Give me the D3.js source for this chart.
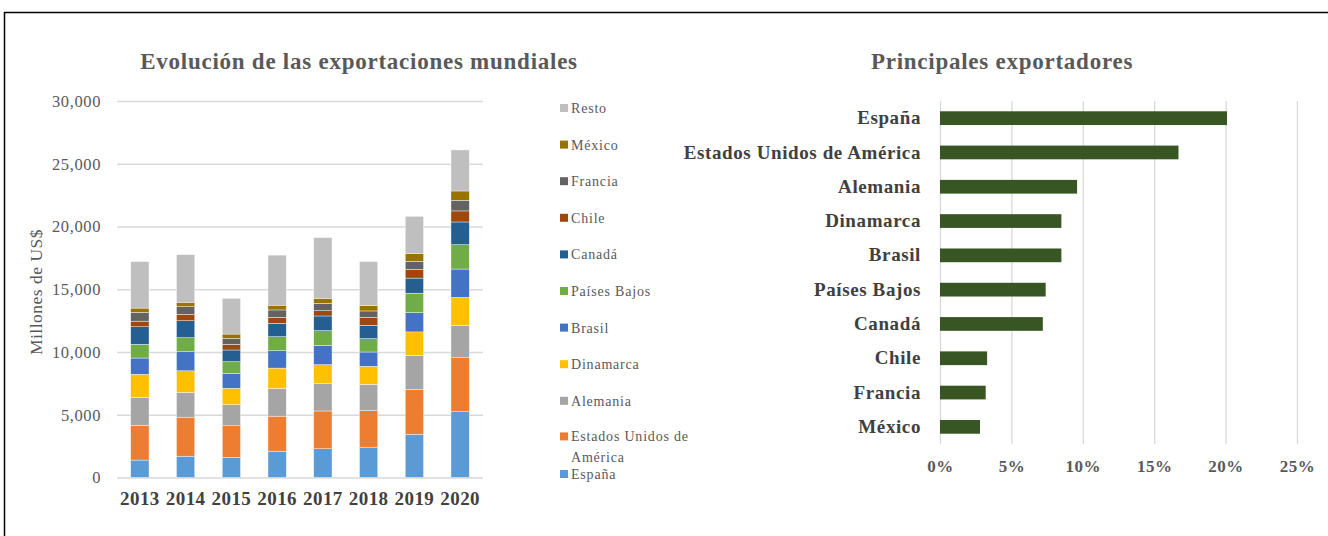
<!DOCTYPE html>
<meta charset="utf-8">
<script src="https://d3js.org/d3.v7.min.js"></script>
<style>
  body { margin: 0; background: #fff; }
  svg text { font-family: "Liberation Serif", serif; }
</style>
<div id="chart"></div>
<script>
// ---- data ----
var years = ["2013", "2014", "2015", "2016", "2017", "2018", "2019", "2020"];
// stacking order, bottom to top
var countries = ["España", "Estados Unidos de América", "Alemania", "Dinamarca", "Brasil",
  "Países Bajos", "Canadá", "Chile", "Francia", "México", "Resto"];
var espana    = [1390, 1700, 1600, 2100, 2290, 2420, 3440, 5240];
var eeuu      = [2760, 3110, 2520, 2790, 3010, 2930, 3590, 4300];
var alemania  = [2240, 1970, 1680, 2210, 2180, 2070, 2710, 2580];
var dinamarca = [1830, 1720, 1310, 1620, 1510, 1440, 1860, 2230];
var brasil    = [1300, 1520, 1200, 1380, 1550, 1140, 1540, 2260];
var paisesBajos = [1090, 1120, 920, 1120, 1160, 1060, 1550, 1940];
var canada    = [1400, 1350, 930, 1070, 1170, 1070, 1200, 1810];
var chile     = [450, 510, 450, 480, 420, 640, 690, 880];
var francia   = [700, 610, 480, 580, 590, 500, 640, 850];
var mexico    = [340, 350, 340, 380, 400, 420, 640, 740];
var resto     = [3700, 3800, 2850, 3990, 4830, 3510, 2950, 3270];
var seriesValues = [espana, eeuu, alemania, dinamarca, brasil, paisesBajos, canada, chile, francia, mexico, resto];
var seriesColors = ["#5B9BD5", "#ED7D31", "#A5A5A5", "#FFC000", "#4472C4", "#70AD47",
  "#255E91", "#9E480E", "#636363", "#997300", "#BFBFBF"];
var yTicks = [0, 5000, 10000, 15000, 20000, 25000, 30000];

// share of exports, top to bottom
var exporters = ["España", "Estados Unidos de América", "Alemania", "Dinamarca", "Brasil",
  "Países Bajos", "Canadá", "Chile", "Francia", "México"];
var shares = [0.201, 0.167, 0.096, 0.085, 0.085, 0.074, 0.072, 0.033, 0.032, 0.028];
var xTicks = [0, 0.05, 0.10, 0.15, 0.20, 0.25];

var W = 1328, H = 536;
var svg = d3.select("#chart").append("svg")
  .attr("width", W).attr("height", H);

// outer frame
svg.append("rect")
  .attr("x", 4.5).attr("y", 12.5)
  .attr("width", 1340).attr("height", 540)
  .attr("fill", "none").attr("stroke", "#000").attr("stroke-width", 1.5);

// ---------- left: stacked columns ----------
var x = d3.scaleBand().domain(years).range([117, 483]).paddingInner(0.6).paddingOuter(0.3);
var y = d3.scaleLinear().domain([0, 30000]).range([477.5, 101]);

svg.append("text")
  .attr("x", 359).attr("y", 69)
  .attr("text-anchor", "middle")
  .style("font-size", "23px").style("font-weight", "bold").style("fill", "#595959")
  .style("letter-spacing", "0.75px")
  .text("Evolución de las exportaciones mundiales");

var yAxis = svg.append("g")
  .attr("transform", "translate(117,0)")
  .call(d3.axisLeft(y).tickValues(yTicks).tickFormat(d3.format(",")).tickSize(-366).tickPadding(16));
yAxis.select(".domain").remove();
yAxis.selectAll(".tick line").attr("stroke", "#D9D9D9").attr("stroke-width", 1.3);
yAxis.selectAll(".tick text")
  .style("font-size", "16.5px").style("fill", "#595959").style("letter-spacing", "0.6px")
  .style("font-family", "'Liberation Serif', serif");

svg.append("text")
  .attr("transform", "translate(42,292) rotate(-90)")
  .attr("text-anchor", "middle")
  .style("font-size", "17.5px").style("fill", "#595959").style("letter-spacing", "0.5px")
  .text("Millones de US$");

var table = years.map(function(yr, i) {
  var row = { year: yr };
  countries.forEach(function(c, k) { row[c] = seriesValues[k][i]; });
  return row;
});
var stack = d3.stack().keys(countries)(table);

svg.append("g").selectAll("g")
  .data(stack).enter().append("g")
    .attr("fill", function(d, k) { return seriesColors[k]; })
  .selectAll("rect")
  .data(function(d) { return d; }).enter().append("rect")
    .attr("x", function(d) { return x(d.data.year); })
    .attr("width", x.bandwidth())
    .attr("y", function(d) { return y(d[1]); })
    .attr("height", function(d) { return y(d[0]) - y(d[1]); })
    .attr("stroke", "#fff").attr("stroke-width", 0.4);

var xAxis = svg.append("g")
  .attr("transform", "translate(0,478)")
  .call(d3.axisBottom(x).tickSize(0).tickPadding(14));
xAxis.select(".domain").remove();
xAxis.selectAll(".tick text")
  .style("font-size", "19px").style("font-weight", "bold").style("fill", "#404040")
  .style("letter-spacing", "0.4px")
  .style("font-family", "'Liberation Serif', serif");

// legend (top entry = last series)
var legendY = d3.scalePoint().domain(countries.slice().reverse()).range([108, 474]);
var leg = svg.append("g").selectAll("g")
  .data(countries).enter().append("g")
  .attr("transform", function(d) {
    var yy = legendY(d);
    if (d === "Estados Unidos de América") yy -= 1;
    return "translate(560," + yy + ")";
  });
leg.append("rect")
  .attr("x", 0).attr("y", -4).attr("width", 8).attr("height", 8)
  .attr("fill", function(d, k) { return seriesColors[k]; });
leg.append("text")
  .attr("x", 11).attr("y", 5)
  .style("font-size", "14px").style("fill", "#595959").style("letter-spacing", "0.8px")
  .each(function(d) {
    var t = d3.select(this);
    if (d === "Estados Unidos de América") {
      t.append("tspan").text("Estados Unidos de");
      t.append("tspan").attr("x", 11).attr("dy", 21).text("América");
    } else {
      t.text(d);
    }
  });

// ---------- right: horizontal bars ----------
var xr = d3.scaleLinear().domain([0, 0.25]).range([940, 1297]);
var yr = d3.scaleBand().domain(exporters).range([101, 444]).paddingInner(0.6).paddingOuter(0.3);

svg.append("text")
  .attr("x", 1002).attr("y", 69)
  .attr("text-anchor", "middle")
  .style("font-size", "23px").style("font-weight", "bold").style("fill", "#595959")
  .style("letter-spacing", "0.75px")
  .text("Principales exportadores");

var grid = svg.append("g")
  .attr("transform", "translate(0,444)")
  .call(d3.axisBottom(xr).tickValues(xTicks).tickFormat(d3.format(".0%")).tickSize(-343).tickPadding(16));
grid.select(".domain").remove();
grid.selectAll(".tick line").attr("stroke", "#D9D9D9").attr("stroke-width", 1.3);
grid.selectAll(".tick text")
  .style("font-size", "17px").style("font-weight", "bold").style("fill", "#595959")
  .style("letter-spacing", "0.5px")
  .style("font-family", "'Liberation Serif', serif");

svg.append("g").selectAll("rect")
  .data(exporters).enter().append("rect")
  .attr("x", xr(0))
  .attr("y", function(d) { return yr(d); })
  .attr("height", yr.bandwidth())
  .attr("width", function(d, i) { return xr(shares[i]) - xr(0); })
  .attr("fill", "#375623");

var cat = svg.append("g")
  .attr("transform", "translate(940,0)")
  .call(d3.axisLeft(yr).tickSize(0).tickPadding(19));
cat.select(".domain").remove();
cat.selectAll(".tick text")
  .style("font-size", "19px").style("font-weight", "bold").style("fill", "#404040")
  .style("letter-spacing", "0.6px")
  .style("font-family", "'Liberation Serif', serif");
</script>
